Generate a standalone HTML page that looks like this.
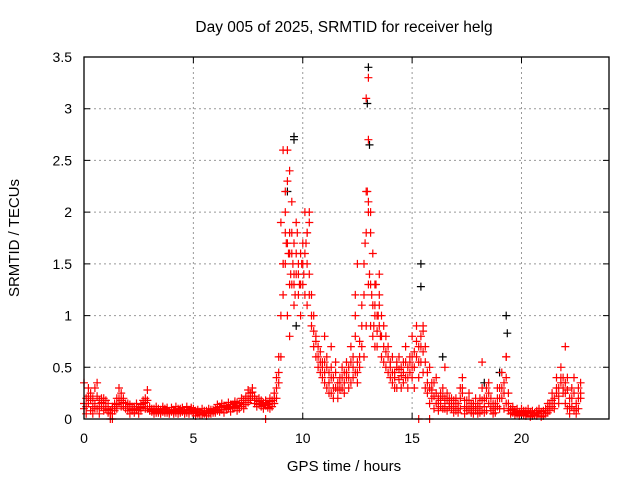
<!DOCTYPE html>
<html><head><meta charset="utf-8"><style>
body{margin:0;background:#fff}
svg{display:block;font-family:"Liberation Sans",sans-serif}
</style></head><body>
<svg id="chart" width="640" height="480" viewBox="0 0 640 480">
<text x="344" y="32" font-size="15.5" text-anchor="middle">Day 005 of 2025, SRMTID for receiver helg</text>
<text x="344" y="471" font-size="15" text-anchor="middle">GPS time / hours</text>
<text transform="translate(19,238) rotate(-90)" font-size="15" text-anchor="middle">SRMTID / TECUs</text>
<g id="grid"></g>
<g id="ticks"></g>
<g id="marks"></g>
<rect x="84" y="57" width="525" height="362" fill="none" stroke="#000" stroke-width="1.3"/>
</svg>
<script>
const xTicks=[0,5,10,15,20];
const yTicks=[0,0.5,1,1.5,2,2.5,3,3.5];
const yTickLabels=["0","0.5","1","1.5","2","2.5","3","3.5"];
const tStart=0, tStep=0.1;
const seriesA=[.10,.20,.15,.08,.12,.30,.10,.18,.12,.08,
.10,.06,.00,.12,.08,.10,.15,.25,.12,.10,
.08,.10,.12,.06,.09,.10,.08,.12,.20,.10,
.08,.07,.10,.06,.08,.09,.07,.10,.06,.08,
.07,.09,.06,.08,.10,.07,.08,.06,.09,.08,
.06,.08,.05,.07,.04,.06,.08,.05,.07,.09,
.10,.08,.12,.09,.11,.13,.10,.12,.14,.11,
.13,.15,.12,.18,.20,.16,.25,.22,.15,.18,
.14,.12,.16,.13,.11,.10,.15,.20,.30,.45,
.60,1.2,1.8,1.0,1.6,1.3,1.1,1.4,1.2,1.0,
1.3,1.2,1.5,1.4,.90,.70,.60,.50,.45,.40,
.35,.30,.45,.25,.40,.30,.35,.28,.30,.45,
.40,.50,.35,.60,.45,.55,.50,.70,.60,.90,
1.3,.90,.80,.70,1.0,.90,.60,.55,.50,.45,
.40,.35,.45,.30,.38,.42,.35,.40,.50,.45,
.40,.50,.60,.70,.55,.45,.30,.25,.15,.20,
.10,.15,.08,.12,.10,.20,.08,.12,.10,.06,
.08,.15,.10,.25,.12,.08,.10,.06,.12,.08,
.10,.06,.08,.12,.20,.15,.08,.10,.06,.12,
.10,.20,.35,.15,.08,.10,.06,.08,.05,.07,
.06,.04,.08,.05,.07,.03,.06,.08,.05,.07,
.08,.10,.06,.15,.12,.20,.25,.30,.35,.25,
.15,.10,.20,.12,.08,.15,.10,.20];
const seriesB=[.35,.05,.30,.25,.05,.15,.35,.05,.20,.15,
.18,.15,.08,.05,.15,.20,.30,.12,.20,.15,
.15,.05,.08,.12,.15,.05,.14,.18,.10,.28,
.12,.10,.05,.12,.10,.05,.12,.08,.11,.05,
.11,.05,.12,.05,.06,.11,.05,.12,.05,.11,
.10,.03,.09,.04,.10,.08,.03,.10,.05,.06,
.06,.14,.07,.15,.06,.09,.16,.07,.10,.17,
.08,.10,.20,.10,.14,.28,.18,.30,.22,.12,
.20,.18,.10,.18,.15,.20,.12,.15,.20,.35,
1.9,2.6,1.5,2.3,.80,1.8,1.7,1.9,1.5,1.6,
1.7,2.0,1.1,1.9,1.2,1.0,.80,.70,.65,.55,
.55,.60,.25,.50,.20,.55,.20,.40,.50,.25,
.55,.30,.70,.40,1.0,.35,.75,1.1,1.5,2.2,
3.3,2.0,1.6,1.3,.70,1.4,1.0,.90,.80,.70,
.55,.60,.30,.50,.60,.30,.55,.70,.30,.60,
.60,.30,.90,.40,.80,.85,.70,.45,.50,.35,
.35,.40,.20,.25,.30,.10,.25,.20,.15,.18,
.20,.06,.30,.40,.05,.18,.25,.15,.05,.20,
.05,.20,.30,.06,.08,.35,.20,.05,.15,.30,
.30,.45,.10,.60,.25,.05,.12,.04,.10,.03,
.10,.08,.03,.10,.02,.08,.04,.03,.10,.02,
.03,.05,.15,.08,.25,.10,.40,.15,.50,.40,
.35,.40,.05,.30,.40,.05,.30,.35];
const seriesC=[.15,.12,.22,.18,.20,.10,.22,.12,.16,.20,
.12,.09,.05,.10,.12,.14,.20,.18,.16,.12,
.12,.14,.09,.10,.12,.08,.11,.15,.16,.18,
.10,.09,.08,.09,.06,.07,.10,.06,.09,.07,
.09,.07,.08,.10,.08,.09,.06,.09,.07,.10,
.08,.06,.07,.06,.07,.05,.06,.07,.09,.08,
.08,.11,.09,.12,.13,.11,.12,.14,.12,.15,
.16,.12,.16,.14,.22,.20,.20,.26,.18,.15,
.17,.15,.13,.16,.14,.17,.18,.25,.40,.60,
1.0,1.5,2.2,1.7,1.3,1.6,1.4,1.6,1.4,1.3,
1.5,1.6,1.8,1.2,1.0,.85,.75,.60,.55,.50,
.45,.50,.35,.40,.30,.45,.28,.35,.40,.35,
.45,.40,.55,.50,.80,.45,.60,.90,1.2,1.8,
2.0,1.3,1.1,1.0,.85,1.1,.80,.70,.65,.60,
.50,.45,.40,.55,.48,.50,.45,.55,.40,.55,
.50,.65,.75,.55,.70,.65,.55,.35,.30,.28,
.22,.25,.15,.18,.22,.15,.18,.15,.20,.12,
.15,.10,.20,.30,.18,.12,.18,.10,.15,.12,
.15,.12,.18,.20,.30,.25,.12,.15,.10,.20,
.20,.30,.25,.40,.15,.08,.09,.06,.07,.05,
.08,.06,.05,.07,.05,.06,.05,.06,.08,.05,
.05,.08,.10,.12,.18,.15,.30,.22,.40,.30,
.25,.28,.12,.20,.25,.10,.20,.25];
const extraRedT=[9.3,9.4,9.2,9.6,9.5,10.3,12.9,13.0,13.0,13.1,13.3,12.5,12.4,15.3,15.8,8.3,1.3,22.0,19.3,16.5,18.2,10.2,9.1,9.4,11.0,11.3,13.5,15.5,15.0,9.25,9.35,9.45,9.55,9.65,9.75,9.85,9.95,10.05,10.15,12.85,12.95,13.05,13.15,13.25,13.35,13.45,13.55];
const extraRedV=[2.6,2.4,2.0,1.3,2.1,2.0,3.1,2.7,2.1,1.8,1.1,1.5,1.2,0.0,0.0,0.0,0.0,0.7,0.6,0.5,0.55,1.8,1.5,1.8,0.8,0.7,1.2,0.9,0.8,1.7,1.6,1.4,1.5,1.2,1.8,1.3,1.5,1.4,1.7,1.7,2.2,1.4,1.2,0.9,1.3,1.0,0.8];
const blackT=[9.6,9.6,9.3,13.0,12.95,13.05,15.4,15.4,19.3,19.35,9.7,19.0,18.3,16.4];
const blackV=[2.7,2.73,2.2,3.4,3.05,2.65,1.5,1.28,1.0,0.83,0.9,0.45,0.35,0.6];

const X0=84,X1=609,Y0=419,Y1=57,xMax=24,yMax=3.5;
const sx=t=>X0+(t/xMax)*(X1-X0);
const sy=v=>Y0-(v/yMax)*(Y0-Y1);
const NS="http://www.w3.org/2000/svg";
const grid=document.getElementById('grid'),ticks=document.getElementById('ticks'),marks=document.getElementById('marks');
function mk(tag,attrs,parent){const e=document.createElementNS(NS,tag);for(const k in attrs)e.setAttribute(k,attrs[k]);parent.appendChild(e);return e;}
xTicks.forEach(t=>{
  const x=sx(t);
  if(t>0){const g=mk('line',{x1:x,x2:x,y1:Y1,y2:Y0,stroke:'#999','stroke-dasharray':'2,3'},grid);
  
  }
  const tk=mk('path',{d:`M${x},${Y0}v-6M${x},${Y1}v6`,stroke:'#000'},ticks);
  
  
  const lb=mk('text',{x:x,y:443,'font-size':14,'text-anchor':'middle'},ticks);lb.textContent=t;
  
  
});
yTicks.forEach((v,i)=>{
  const y=sy(v);
  if(v>0&&v<yMax){const g=mk('line',{x1:X0,x2:X1,y1:y,y2:y,stroke:'#999','stroke-dasharray':'2,3'},grid);
  
  }
  const tk=mk('path',{d:`M${X0},${y}h6M${X1},${y}h-6`,stroke:'#000'},ticks);
  
  
  const lb=mk('text',{x:72,y:y+5,'font-size':14,'text-anchor':'end'},ticks);lb.textContent=yTickLabels[i];
  
  
});
function plus(ts,vs,color,name){
  let d='';
  for(let i=0;i<ts.length;i++){const x=sx(ts[i]),y=sy(vs[i]);d+=`M${(x-4).toFixed(1)},${y.toFixed(1)}h8M${x.toFixed(1)},${(y-4).toFixed(1)}v8`;}
  const p=mk('path',{d:d,stroke:color,'stroke-width':1.2,fill:'none'},marks);
  
  
}
const times=seriesA.map((_,i)=>tStart+i*tStep);
plus(blackT,blackV,'#000','srmtid-points-black');
plus(times,seriesA,'#f00','srmtid-points-a');
plus(times,seriesB,'#f00','srmtid-points-b');
plus(times,seriesC,'#f00','srmtid-points-c');
plus(extraRedT,extraRedV,'#f00','srmtid-points-extra');
</script>
</body></html>
